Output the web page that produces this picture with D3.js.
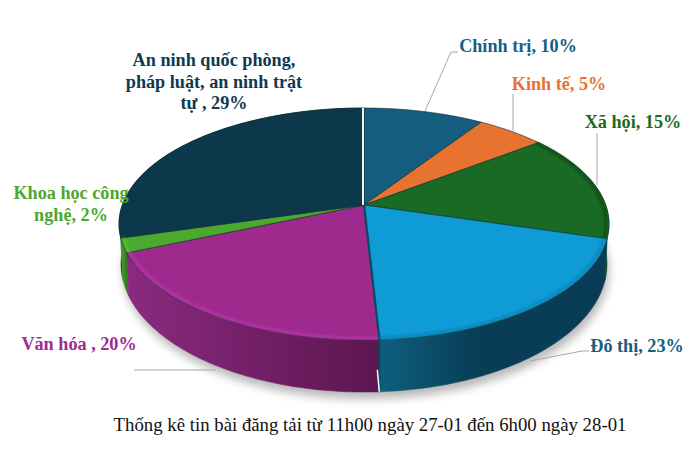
<!DOCTYPE html>
<html>
<head>
<meta charset="utf-8">
<script src="https://cdnjs.cloudflare.com/ajax/libs/d3/7.8.5/d3.min.js"></script>
<style>
  html, body { margin: 0; padding: 0; background: #fff; }
  svg { display: block; }
  text { font-family: "Liberation Serif", "Times New Roman", serif; }
  .label { font-weight: bold; font-size: 18.2px; }
  .footer { font-size: 18.8px; fill: #111; }
</style>
</head>
<body>
<svg id="chart" width="689" height="465"></svg>
<script>
const width = 689;
const height = 465;

const categories = ["Chính trị", "Kinh tế", "Xã hội", "Đô thị", "Văn hóa", "Khoa học công nghệ", "An ninh quốc phòng, pháp luật, an ninh trật tự"];
// percentages printed on the labels
const labelValues = [10, 5, 15, 23, 20, 2, 29];
// share of the circle each slice really takes in the picture (the labels add up to 104)
const sliceShares = [9.3, 5.3, 15, 19.55, 19.35, 2, 29.5];
const sliceColors = ["#155d7e", "#e8722f", "#196a25", "#0f9bd5", "#9e2a8e", "#4ca82e", "#0d384c"];
const wallDark = ["#0f4560", "#a8501f", "#0f4a18", "#083d55", "#5c164f", "#2f7a1c", "#092a3a"];
const wallLight = ["#155d7e", "#e8722f", "#196a25", "#0f5f7e", "#8a2a80", "#4ca82e", "#0d384c"];
const labelColors = ["#156082", "#e97132", "#196b24", "#156082", "#a02b93", "#4ea72e", "#0e3a4f"];

const labelLines = [
  ["Chính trị, 10%"],
  ["Kinh tế, 5%"],
  ["Xã hội, 15%"],
  ["Đô thị, 23%"],
  ["Văn hóa , 20%"],
  ["Khoa học công", "nghệ, 2%"],
  ["An ninh quốc phòng,", "pháp luật, an ninh trật", "tự , 29%"],
];

const svg = d3.select("#chart");
const defs = svg.append("defs");

defs.append("filter").attr("id", "soft").attr("x", "-20%").attr("y", "-20%").attr("width", "140%").attr("height", "140%")
  .append("feGaussianBlur").attr("stdDeviation", 5);
defs.append("filter").attr("id", "rim").attr("filterUnits", "userSpaceOnUse")
  .attr("x", 0).attr("y", 0).attr("width", width).attr("height", height)
  .append("feGaussianBlur").attr("stdDeviation", 1.1);

// perspective disc: the near edge is drawn bigger than the far one
const tilt = 0.164;
const topDisc = { cx: 364, cy: 205, rx: 241.7, ry: 112.9 };
const bottomDisc = { cx: 364, cy: 243, rx: 239.7, ry: 124.6 };

function project(angle, disc, r = 1) {
  const u = r * Math.sin(angle);
  const v = -r * Math.cos(angle);
  const s = 1 / (1 - tilt * v);
  return [disc.cx + disc.rx * u * s, disc.cy + disc.ry * v * s];
}

const pie = d3.pie().sort(null).value((d) => d);
const slices = pie(sliceShares);
const line = d3.line();
const deg = Math.PI / 180;

function arcPoints(a0, a1, disc, r = 1) {
  const n = Math.max(2, Math.ceil((a1 - a0) / deg));
  return d3.range(n + 1).map((i) => project(a0 + ((a1 - a0) * i) / n, disc, r));
}

// soft shadow under the pie
svg.append("path")
  .attr("d", line(arcPoints(0, 2 * Math.PI, bottomDisc)) + "Z")
  .attr("transform", "translate(2, 7)")
  .attr("fill", "#000")
  .attr("opacity", 0.28)
  .attr("filter", "url(#soft)");

// side walls, far ones first
const wallOrder = [2, 6, 5, 3, 4];
const wallGroup = svg.append("g");
wallOrder.forEach((i) => {
  const s = slices[i];
  const x0 = project(s.startAngle, topDisc)[0];
  const x1 = project(s.endAngle, topDisc)[0];
  const grad = defs.append("linearGradient")
    .attr("id", `wall-${i}`)
    .attr("gradientUnits", "userSpaceOnUse")
    .attr("x1", i === 3 ? x1 : Math.min(x0, x1))
    .attr("x2", i === 3 ? x1 + 100 : Math.max(x0, x1))
    .attr("y1", 0).attr("y2", 0);
  grad.append("stop").attr("offset", "0%").attr("stop-color", wallLight[i]);
  grad.append("stop").attr("offset", "100%").attr("stop-color", wallDark[i]);

  const pts = arcPoints(s.startAngle, s.endAngle, topDisc)
    .concat(arcPoints(s.startAngle, s.endAngle, bottomDisc).reverse());
  wallGroup.append("path")
    .attr("d", line(pts) + "Z")
    .attr("fill", `url(#wall-${i})`)
    .attr("stroke", `url(#wall-${i})`)
    .attr("stroke-width", 0.5);
});

// gap between the two front walls
const frontEdge = slices[3].endAngle;
svg.append("path")
  .attr("d", line([project(frontEdge, topDisc), project(frontEdge, bottomDisc)]))
  .attr("stroke", "#0a4a62")
  .attr("stroke-width", 2);
svg.append("path")
  .attr("d", line([[project(frontEdge, bottomDisc)[0] - 2, project(frontEdge, bottomDisc)[1] - 22], project(frontEdge, bottomDisc)]))
  .attr("stroke", "#fff")
  .attr("stroke-width", 1.5);

// top faces
const faces = svg.append("g");
slices.forEach((s, i) => {
  faces.append("path")
    .attr("d", line([[topDisc.cx, topDisc.cy]].concat(arcPoints(s.startAngle, s.endAngle, topDisc))) + "Z")
    .attr("fill", sliceColors[i])
    .attr("stroke", "#0b2e2e")
    .attr("stroke-opacity", 0.75)
    .attr("stroke-width", 0.8);
});

// bevel along the front rim
[
  { i: 2, color: "#0e4a18" },
  { i: 3, color: "#0d82b8" },
  { i: 4, color: "#b636a8" },
  { i: 5, color: "#5cbb38" },
].forEach(({ i, color }) => {
  const s = slices[i];
  svg.append("path")
    .attr("d", line(arcPoints(s.startAngle, s.endAngle, topDisc, 0.988)))
    .attr("fill", "none")
    .attr("stroke", color)
    .attr("stroke-width", 2.5)
    .attr("filter", "url(#rim)");
});

// dark edge of the blue slice and white gap at twelve o'clock
svg.append("path")
  .attr("d", line([[topDisc.cx, topDisc.cy], project(frontEdge, topDisc)]))
  .attr("stroke", "#0a4a62")
  .attr("stroke-width", 2.2);
svg.append("path")
  .attr("d", line([project(0, topDisc), [topDisc.cx, topDisc.cy]]))
  .attr("transform", "translate(-1, 0)")
  .attr("stroke", "#f2f2f2")
  .attr("stroke-width", 2);

// leader lines
const leaderRoutes = [
  [[425, 111], [451, 52], [458, 52]],
  [[513, 131], [513, 94]],
  [[597, 185], [597, 133]],
  [[530, 361], [582, 351], [589, 351]],
  [[216, 370], [134, 370]],
];
svg.append("g").selectAll("path")
  .data(leaderRoutes)
  .join("path")
  .attr("d", (d) => line(d))
  .attr("fill", "none")
  .attr("stroke", "#a6a6a6")
  .attr("stroke-width", 1);

// labels
const labelAnchors = [[518, 52], [559, 90], [633, 128], [637, 352], [79, 350], [71, 199], [214, 66]];
labelLines.forEach((lines, i) => {
  const t = svg.append("text")
    .attr("class", "label")
    .attr("text-anchor", "middle")
    .attr("fill", labelColors[i]);
  t.append("title").text(`${categories[i]}: ${labelValues[i]}%`);
  lines.forEach((txt, j) => {
    t.append("tspan")
      .attr("x", labelAnchors[i][0])
      .attr("y", labelAnchors[i][1] + j * 21.5)
      .text(txt);
  });
});

svg.append("text")
  .attr("class", "footer")
  .attr("text-anchor", "middle")
  .attr("x", 370)
  .attr("y", 431)
  .text("Thống kê tin bài đăng tải từ 11h00 ngày 27-01 đến 6h00 ngày 28-01");
</script>
</body>
</html>
